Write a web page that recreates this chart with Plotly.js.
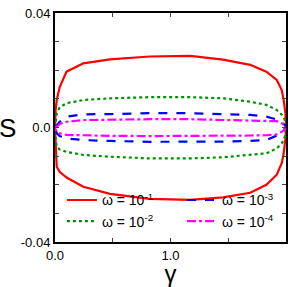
<!DOCTYPE html>
<html><head><meta charset="utf-8">
<script src="https://cdn.plot.ly/plotly-3.0.1.min.js"></script>
<style>html,body{margin:0;padding:0;background:#fff}#p{width:290px;height:287px}</style>
</head><body><div id="p"></div>
<script>
var gamma = [0, 0.005, 0.015, 0.04, 0.1, 0.245, 0.476, 0.82, 1.17, 1.455, 1.69, 1.83, 1.92, 1.963, 1.98, 1.995, 2.0];
var w1Upper = [0, 0.006, 0.0096, 0.014, 0.0195, 0.0224, 0.0238, 0.0248, 0.025, 0.0237, 0.0219, 0.0195, 0.0166, 0.0131, 0.0096, 0.005, 0];
var w1Lower = [0, -0.007, -0.0137, -0.0155, -0.0175, -0.0207, -0.0232, -0.0249, -0.0253, -0.0244, -0.0228, -0.02, -0.0165, -0.0125, -0.009, -0.004, 0];
var w2Upper = [0, 0.0025, 0.005, 0.007, 0.0085, 0.0096, 0.0102, 0.0106, 0.0106, 0.0102, 0.009, 0.0079, 0.0061, 0.0045, 0.0036, 0.002, 0];
var w2Lower = [0, -0.004, -0.0067, -0.0077, -0.0085, -0.0096, -0.0102, -0.0108, -0.0108, -0.0104, -0.0096, -0.009, -0.0073, -0.0055, -0.0044, -0.0025, 0];
var w3Upper = [0, 0.0003, 0.0009, 0.002, 0.0038, 0.0046, 0.0047, 0.005, 0.005, 0.0046, 0.0044, 0.0038, 0.0028, 0.0018, 0.0013, 0.0006, 0];
var w3Lower = [0, -0.0008, -0.002, -0.003, -0.0038, -0.0044, -0.0047, -0.005, -0.005, -0.0049, -0.0047, -0.0044, -0.0028, -0.0012, -0.0008, -0.0003, 0];
var w4Upper = [0, 0.0001, 0.0003, 0.0012, 0.002, 0.0026, 0.0028, 0.0029, 0.0029, 0.0027, 0.0026, 0.0025, 0.0022, 0.0015, 0.001, 0.0005, 0];
var w4Lower = [0, -0.0006, -0.0015, -0.002, -0.0026, -0.0027, -0.0029, -0.003, -0.003, -0.0029, -0.0028, -0.0027, -0.0024, -0.0015, -0.001, -0.0005, 0];
var seriesNames = ['ω = 10<sup>-1</sup>', 'ω = 10<sup>-2</sup>', 'ω = 10<sup>-3</sup>', 'ω = 10<sup>-4</sup>'];
var xTickVals = [0, 0.5, 1, 1.5, 2];
var xTickText = ['0.0', '', '1.0', '', '2.0'];
var yTickVals = [-0.04, -0.03, -0.02, -0.01, 0, 0.01, 0.02, 0.03, 0.04];
var yTickText = ['-0.04', '', '', '', '0.0', '', '', '', '0.04'];

function loop(up, lo) {
  return {x: gamma.concat(gamma.slice().reverse()), y: up.concat(lo.slice().reverse())};
}
var styles = [
  {color: '#ff0000', dash: 'solid', legend: 'legend'},
  {color: '#009000', dash: 'dot', legend: 'legend'},
  {color: '#0000ff', dash: 'dash', legend: 'legend2'},
  {color: '#ff00ff', dash: 'dashdot', legend: 'legend2'}
];
var data = [[w1Upper, w1Lower], [w2Upper, w2Lower], [w3Upper, w3Lower], [w4Upper, w4Lower]];
var traces = data.map(function (d, i) {
  var l = loop(d[0], d[1]);
  return {x: l.x, y: l.y, mode: 'lines', name: seriesNames[i], legend: styles[i].legend,
    line: {color: styles[i].color, dash: styles[i].dash, width: 2.2}};
});
var font = {family: 'Liberation Sans, Arial, sans-serif', color: '#000'};
var layout = {
  width: 290, height: 287,
  margin: {l: 55, r: 4, t: 13, b: 45},
  paper_bgcolor: '#fff', plot_bgcolor: '#fff',
  font: {family: font.family, size: 13, color: '#000'},
  showlegend: true,
  xaxis: {range: [0, 2], tickvals: xTickVals, ticktext: xTickText, ticks: 'inside', ticklen: 4, tickwidth: 1,
    showline: true, linewidth: 2, linecolor: '#000', mirror: 'ticks', showgrid: false, zeroline: false,
    tickfont: {size: 13}, title: {text: 'γ', font: {size: 24}, standoff: 2}},
  yaxis: {range: [-0.04, 0.04], tickvals: yTickVals, ticktext: yTickText, ticks: 'inside', ticklen: 4, tickwidth: 1,
    showline: true, linewidth: 2, linecolor: '#000', mirror: 'ticks', showgrid: false, zeroline: false,
    tickfont: {size: 13}},
  legend: {x: 0.03, y: 0.02, xanchor: 'left', yanchor: 'bottom', bgcolor: 'rgba(0,0,0,0)', font: {size: 14}, tracegroupgap: 0},
  legend2: {x: 0.55, y: 0.02, xanchor: 'left', yanchor: 'bottom', bgcolor: 'rgba(0,0,0,0)', font: {size: 14}, tracegroupgap: 0},
  annotations: [{text: 'S', xref: 'paper', yref: 'paper', x: -0.16, y: 0.5, xanchor: 'right', yanchor: 'middle',
    showarrow: false, font: {size: 26}}]
};
Plotly.newPlot('p', traces, layout, {staticPlot: true});
</script></body></html>
